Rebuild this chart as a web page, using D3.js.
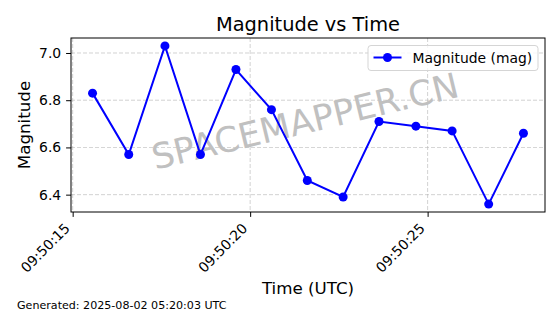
<!DOCTYPE html>
<html>
<head>
<meta charset="utf-8">
<script src="https://cdn.jsdelivr.net/npm/d3@7"></script>
<style>
body { margin: 0; background: #fff; }
svg { font-family: "DejaVu Sans", sans-serif; }
</style>
</head>
<body>
<svg width="560" height="314"></svg>
<script>
// seconds after 09:50:00 UTC
const times = [15.56, 16.58, 17.60, 18.60, 19.60, 20.60, 21.61, 22.62, 23.63, 24.67, 25.69, 26.72, 27.70];
const magnitudes = [6.83, 6.57, 7.03, 6.57, 6.93, 6.76, 6.46, 6.39, 6.71, 6.69, 6.67, 6.36, 6.66];
const xTicks = [15, 20, 25];
const yTicks = [6.4, 6.6, 6.8, 7.0];

const base = new Date(Date.UTC(2025, 7, 2, 9, 50, 0));
const toDate = s => new Date(base.getTime() + s * 1000);

const plotL = 71, plotR = 545, plotT = 38, plotB = 212;
const tickLen = 4.9, tickPad = 4.9;

const tMin = d3.min(times), tMax = d3.max(times);
const tPad = (tMax - tMin) * 0.05;
const x = d3.scaleUtc()
    .domain([toDate(tMin - tPad), toDate(tMax + tPad)])
    .range([plotL, plotR]);

const mMin = d3.min(magnitudes), mMax = d3.max(magnitudes);
const mPad = (mMax - mMin) * 0.05;
const y = d3.scaleLinear()
    .domain([mMin - mPad, mMax + mPad])
    .range([plotB, plotT]);

const svg = d3.select("svg");

// grid
svg.append("g")
    .selectAll("line")
    .data(yTicks)
    .join("line")
    .attr("x1", plotL).attr("x2", plotR)
    .attr("y1", d => y(d)).attr("y2", d => y(d))
    .attr("stroke", "#b0b0b0").attr("stroke-width", 0.8)
    .attr("stroke-dasharray", "4,2").attr("opacity", 0.7);
svg.append("g")
    .selectAll("line")
    .data(xTicks)
    .join("line")
    .attr("x1", d => x(toDate(d))).attr("x2", d => x(toDate(d)))
    .attr("y1", plotT).attr("y2", plotB)
    .attr("stroke", "#b0b0b0").attr("stroke-width", 0.8)
    .attr("stroke-dasharray", "4,2").attr("opacity", 0.7);

// watermark
svg.append("text")
    .attr("transform", "translate(308,133) rotate(-13.5)")
    .attr("text-anchor", "middle")
    .attr("font-size", 35)
    .attr("fill", "#c0c0c0")
    .text("SPACEMAPPER.CN");

// line + markers
const line = d3.line()
    .x((d, i) => x(toDate(times[i])))
    .y(d => y(d));
svg.append("path")
    .attr("d", line(magnitudes))
    .attr("fill", "none")
    .attr("stroke", "#0000ff")
    .attr("stroke-width", 2);
svg.append("g")
    .selectAll("circle")
    .data(magnitudes)
    .join("circle")
    .attr("cx", (d, i) => x(toDate(times[i])))
    .attr("cy", d => y(d))
    .attr("r", 4.5)
    .attr("fill", "#0000ff");

// axes
const xAxis = svg.append("g")
    .attr("transform", `translate(0,${plotB})`)
    .call(d3.axisBottom(x)
        .tickValues(xTicks.map(toDate))
        .tickFormat(d3.utcFormat("%H:%M:%S"))
        .tickSize(tickLen).tickSizeOuter(0));
xAxis.select(".domain").remove();
xAxis.selectAll("line").attr("stroke", "#000").attr("stroke-width", 1);
xAxis.selectAll("text")
    .attr("font-size", 13.9)
    .attr("fill", "#000")
    .attr("font-family", "DejaVu Sans")
    .attr("text-anchor", "end")
    .attr("dy", null)
    .attr("y", 0)
    .attr("transform", `translate(-2.3,${tickLen + tickPad + 7.5}) rotate(-45)`);

const yAxis = svg.append("g")
    .attr("transform", `translate(${plotL},0)`)
    .call(d3.axisLeft(y)
        .tickValues(yTicks)
        .tickFormat(d3.format(".1f"))
        .tickSize(tickLen).tickSizeOuter(0));
yAxis.select(".domain").remove();
yAxis.selectAll("line").attr("stroke", "#000").attr("stroke-width", 1);
yAxis.selectAll("text")
    .attr("font-size", 13.9)
    .attr("fill", "#000")
    .attr("font-family", "DejaVu Sans")
    .attr("x", -(tickLen + tickPad));

// frame
svg.append("rect")
    .attr("x", plotL).attr("y", plotT)
    .attr("width", plotR - plotL).attr("height", plotB - plotT)
    .attr("fill", "none").attr("stroke", "#000").attr("stroke-width", 1);

// legend
const lg = svg.append("g").attr("transform", "translate(368,45.5)");
lg.append("rect")
    .attr("width", 170).attr("height", 25).attr("rx", 3)
    .attr("fill", "#fff").attr("fill-opacity", 0.8)
    .attr("stroke", "#d5d5d5").attr("stroke-width", 1);
lg.append("line")
    .attr("x1", 5.5).attr("x2", 33.5).attr("y1", 12).attr("y2", 12)
    .attr("stroke", "#0000ff").attr("stroke-width", 2);
lg.append("circle")
    .attr("cx", 19.5).attr("cy", 12).attr("r", 4.5).attr("fill", "#0000ff");
lg.append("text")
    .attr("x", 44.5).attr("y", 17)
    .attr("font-size", 13.9)
    .text("Magnitude (mag)");

// titles
svg.append("text")
    .attr("x", 308).attr("y", 31)
    .attr("text-anchor", "middle")
    .attr("font-size", 19.4)
    .text("Magnitude vs Time");
svg.append("text")
    .attr("x", 308).attr("y", 294)
    .attr("text-anchor", "middle")
    .attr("font-size", 16.7)
    .text("Time (UTC)");
svg.append("text")
    .attr("transform", "translate(29.5,125) rotate(-90)")
    .attr("text-anchor", "middle")
    .attr("font-size", 16.7)
    .text("Magnitude");
svg.append("text")
    .attr("x", 17).attr("y", 308.5)
    .attr("font-size", 11.1)
    .text("Generated: 2025-08-02 05:20:03 UTC");
</script>
</body>
</html>
